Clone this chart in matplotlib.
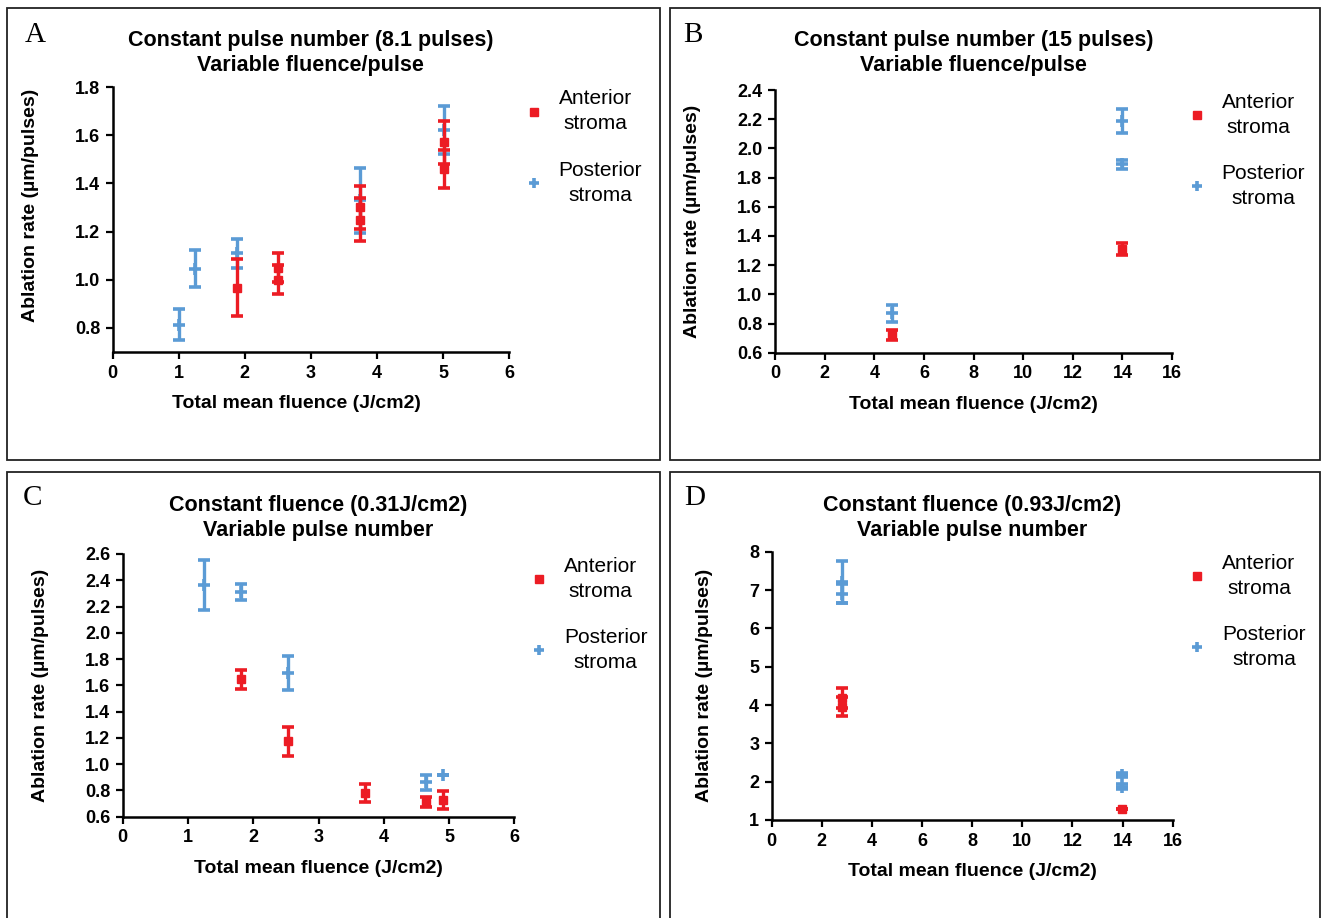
import matplotlib
matplotlib.use('Agg')
import matplotlib.pyplot as plt
from matplotlib.lines import Line2D
from matplotlib.patches import Rectangle
import numpy as np

plt.rcParams['font.family'] = ['Liberation Sans', 'DejaVu Sans']

RED = '#EC1C24'
BLUE = '#5B9BD5'

# Panel A - constant pulse number (8.1 pulses)
a_ant_x = [1.88, 2.51, 2.51, 3.75, 3.75, 5.02, 5.02]
a_ant_y = [0.967, 1.05, 1.00, 1.30, 1.25, 1.57, 1.46]
a_ant_err = [0.117, 0.06, 0.06, 0.09, 0.09, 0.09, 0.08]
a_post_x = [1.0, 1.25, 1.88, 3.75, 5.02]
a_post_y = [0.814, 1.046, 1.11, 1.33, 1.62]
a_post_err = [0.064, 0.078, 0.06, 0.135, 0.10]

# Panel B - constant pulse number (15 pulses)
b_ant_x = [4.7, 14.0]
b_ant_y = [0.72, 1.31]
b_ant_err = [0.034, 0.043]
b_post_x = [4.7, 14.0, 14.0]
b_post_y = [0.87, 2.19, 1.89]
b_post_err = [0.057, 0.083, 0.032]

# Panel C - constant fluence (0.31 J/cm2)
c_ant_x = [1.82, 2.54, 3.72, 4.65, 4.91]
c_ant_y = [1.645, 1.173, 0.78, 0.714, 0.73]
c_ant_err = [0.074, 0.108, 0.066, 0.038, 0.068]
c_post_x = [1.245, 1.82, 2.54, 4.65, 4.91]
c_post_y = [2.361, 2.31, 1.693, 0.862, 0.918]
c_post_err = [0.19, 0.064, 0.127, 0.055, 0.0]

# Panel D - constant fluence (0.93 J/cm2)
d_ant_x = [2.79, 2.79, 13.96]
d_ant_y = [4.19, 3.96, 1.30]
d_ant_err = [0.26, 0.24, 0.0]
d_post_x = [2.79, 2.79, 13.96, 13.96]
d_post_y = [7.2, 6.9, 2.17, 1.87]
d_post_err = [0.55, 0.25, 0.06, 0.06]

W, H = 1324, 918
fig = plt.figure(figsize=(W / 100, H / 100), dpi=100)


def px_rect(l, t, r, b):
    return [l / W, 1 - b / H, (r - l) / W, (b - t) / H]


# panel frames
for l, t, r, b in [(7, 8, 660, 460), (670, 8, 1320, 460),
                   (7, 472, 660, 930), (670, 472, 1320, 930)]:
    fig.add_artist(Rectangle((l / W, 1 - b / H), (r - l) / W, (b - t) / H,
                             transform=fig.transFigure, fill=False,
                             lw=1.3, ec='#222222'))

panels = [
    dict(letter='A', pos=(112.7, 87, 509, 352), lpos=(35, 35), tpad=11.5,
         xlab_x=0.4625, ylab_y=0.555,
         title='Constant pulse number (8.1 pulses)\nVariable fluence/pulse',
         ant=(a_ant_x, a_ant_y, a_ant_err), post=(a_post_x, a_post_y, a_post_err),
         xlim=(0, 6), xticks=np.arange(0, 7, 1), ylim=(0.7, 1.8),
         yticks=np.arange(0.8, 1.81, 0.2), yfmt='{:.1f}'),
    dict(letter='B', pos=(775, 90, 1172, 352.7), lpos=(693, 35), tpad=13.5,
         xlab_x=None, ylab_y=None,
         title='Constant pulse number (15 pulses)\nVariable fluence/pulse',
         ant=(b_ant_x, b_ant_y, b_ant_err), post=(b_post_x, b_post_y, b_post_err),
         xlim=(0, 16), xticks=np.arange(0, 17, 2), ylim=(0.6, 2.4),
         yticks=np.arange(0.6, 2.41, 0.2), yfmt='{:.1f}'),
    dict(letter='C', pos=(122.7, 554, 514.3, 816.7), lpos=(33, 498), tpad=13.3,
         xlab_x=None, ylab_y=None,
         title='Constant fluence (0.31J/cm2)\nVariable pulse number',
         ant=(c_ant_x, c_ant_y, c_ant_err), post=(c_post_x, c_post_y, c_post_err),
         xlim=(0, 6), xticks=np.arange(0, 7, 1), ylim=(0.6, 2.6),
         yticks=np.arange(0.6, 2.61, 0.2), yfmt='{:.1f}'),
    dict(letter='D', pos=(771.7, 551.7, 1172.7, 820), lpos=(695, 498), tpad=11.5,
         xlab_x=None, ylab_y=None,
         title='Constant fluence (0.93J/cm2)\nVariable pulse number',
         ant=(d_ant_x, d_ant_y, d_ant_err), post=(d_post_x, d_post_y, d_post_err),
         xlim=(0, 16), xticks=np.arange(0, 17, 2), ylim=(1, 8),
         yticks=np.arange(1, 9, 1), yfmt='{:.0f}'),
]

for p in panels:
    ax = fig.add_axes(px_rect(*p['pos']))
    x, y, e = p['post']
    ax.errorbar(x, y, yerr=e, fmt='+', color=BLUE, ms=8.5, mew=2.6,
                elinewidth=2.4, capsize=4, capthick=2.6, clip_on=False, zorder=3)
    x, y, e = p['ant']
    ax.errorbar(x, y, yerr=e, fmt='s', color=RED, ms=6, mec=RED,
                elinewidth=2.4, capsize=4, capthick=2.6, clip_on=False, zorder=4)

    ax.set_xlim(*p['xlim'])
    ax.set_ylim(*p['ylim'])
    ax.set_xticks(p['xticks'])
    ax.set_yticks(p['yticks'])
    ax.set_yticklabels([p['yfmt'].format(v) for v in p['yticks']])
    for s in ['top', 'right']:
        ax.spines[s].set_visible(False)
    for s in ['left', 'bottom']:
        ax.spines[s].set_linewidth(1.8)
    ax.tick_params(width=1.6, length=5, pad=4, labelsize=13)
    for lab in ax.get_xticklabels() + ax.get_yticklabels():
        lab.set_fontweight('bold')

    ax.set_xlabel('Total mean fluence (J/cm2)', fontsize=14, fontweight='bold', labelpad=10)
    ax.set_ylabel('Ablation rate (µm/pulses)', fontsize=14, fontweight='bold', labelpad=26)
    if p['xlab_x'] is not None:
        ax.xaxis.label.set_x(p['xlab_x'])
    if p['ylab_y'] is not None:
        ax.yaxis.label.set_y(p['ylab_y'])
    ax.set_title(p['title'], fontsize=15.5, fontweight='bold', pad=p['tpad'],
                 linespacing=1.25)

    handles = [Line2D([], [], ls='none', marker='s', color=RED, ms=6),
               Line2D([], [], ls='none', marker='+', color=BLUE, ms=7.5, mew=2.6)]
    leg = ax.legend(handles, ['Anterior\nstroma', 'Posterior\nstroma'],
                    loc='upper left', bbox_to_anchor=(1.02, 1.03), frameon=False,
                    fontsize=15, handlelength=0.6, handletextpad=0.9,
                    labelspacing=1.3, borderpad=0)
    for t in leg.get_texts():
        t.set_multialignment('center')
        t.set_linespacing(1.4)

    lx, ly = p['lpos']
    fig.text(lx / W, 1 - ly / H, p['letter'], fontsize=21,
             family=['Liberation Serif', 'DejaVu Serif'], ha='center', va='center')

fig.savefig('out.png', dpi=100)
